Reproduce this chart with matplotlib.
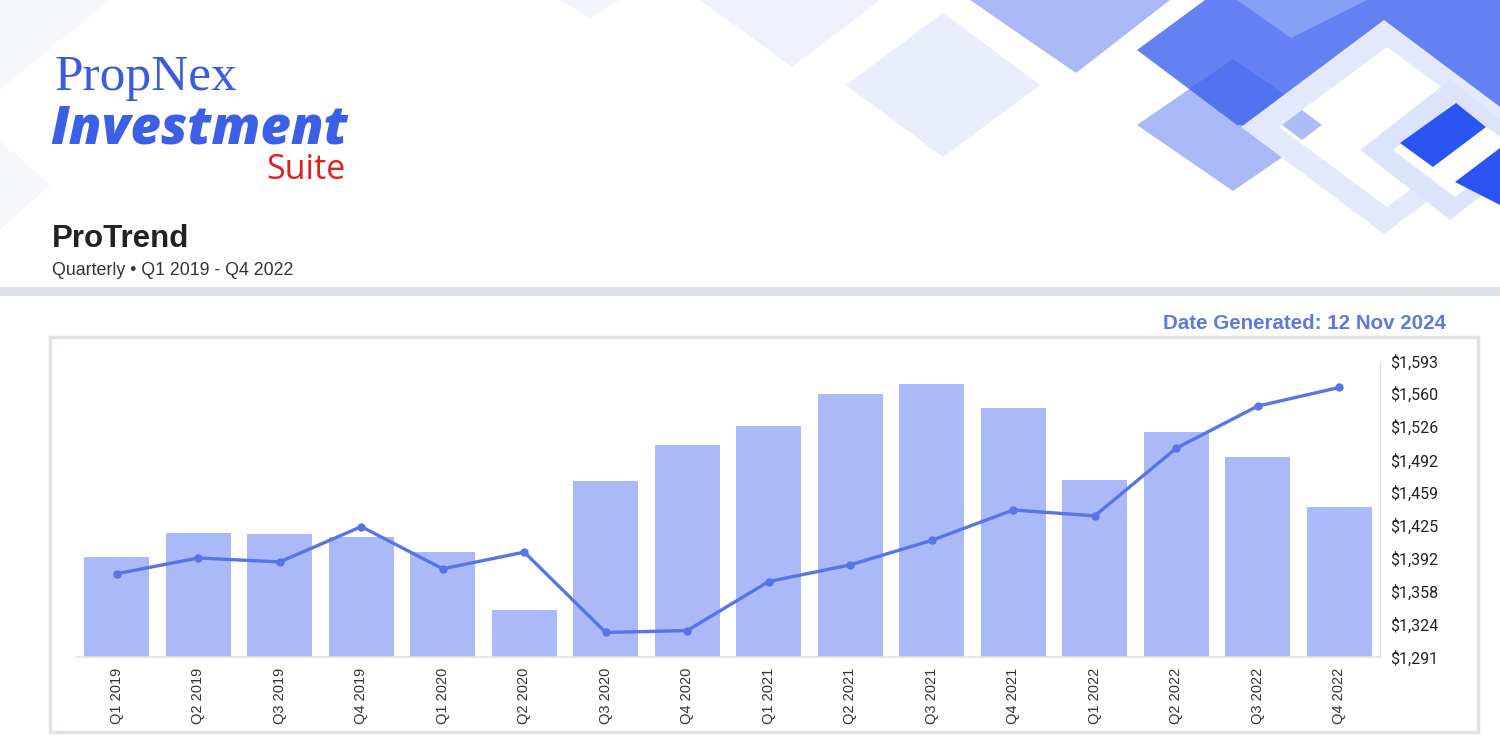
import numpy as np
import matplotlib.pyplot as plt
from matplotlib.patches import Polygon, Rectangle

# Datos
quarters = ['Q1 2019', 'Q2 2019', 'Q3 2019', 'Q4 2019',
            'Q1 2020', 'Q2 2020', 'Q3 2020', 'Q4 2020',
            'Q1 2021', 'Q2 2021', 'Q3 2021', 'Q4 2021',
            'Q1 2022', 'Q2 2022', 'Q3 2022', 'Q4 2022']
# volumen (escala oculta)
volume = [100, 124, 123, 120, 105, 47, 176, 212,
          231, 263, 273, 249, 177, 225, 200, 150]
# precio ($ psf)
price = [1376, 1392, 1388, 1424, 1381, 1398, 1316, 1318,
         1368, 1385, 1410, 1441, 1435, 1504, 1547, 1566]
price_ticks = [1291, 1324, 1358, 1392, 1425, 1459, 1492, 1526, 1560, 1593]

W, H = 1500, 752
fig = plt.figure(figsize=(W / 100, H / 100), dpi=100)
fig.patch.set_facecolor('white')

# Fondo decorativo en coordenadas de pixel
bg = fig.add_axes([0, 0, 1, 1], zorder=-5)
bg.set_xlim(0, W)
bg.set_ylim(H, 0)
bg.axis('off')


def poly(pts, color, alpha=1.0):
    bg.add_patch(Polygon(pts, closed=True, facecolor=color, edgecolor='none', alpha=alpha))


def diamond(cx, cy, hw, hh, color, alpha=1.0):
    poly([(cx - hw, cy), (cx, cy - hh), (cx + hw, cy), (cx, cy + hh)], color, alpha)


poly([(0, 0), (110, 0), (0, 90)], '#f6f7fa')
poly([(0, 140), (50, 185), (0, 230)], '#f6f7fa')
poly([(560, 0), (590, 18), (620, 0)], '#f2f4fc')
poly([(700, 0), (792, 67), (880, 0)], '#eef1fc')
diamond(943, 85, 97, 72, '#e8ecfb')
poly([(970, 0), (1076, 73), (1170, 0)], '#aab8f6')
diamond(1233, 125, 96, 66, '#a9b8f6')
poly([(1137, 50), (1205, 0), (1500, 0), (1500, 140), (1237, 125)], '#3c62f0', 0.8)
poly([(1237, 0), (1367, 0), (1291, 38)], '#8fa9f8', 0.8)
diamond(1384, 127, 143, 107, '#e3e8fb')
diamond(1387, 127, 108, 80, 'white')
diamond(1302, 125, 20, 15, '#aebcf6')
diamond(1450, 150, 90, 70, '#dde3fb')
diamond(1455, 150, 62, 47, 'white')
poly([(1400, 143), (1456, 103), (1486, 127), (1433, 167)], '#2a55f3')
poly([(1455, 182), (1500, 148), (1500, 205)], '#2a55f3')

# Banda separadora
bg.add_patch(Rectangle((0, 287), W, 9, facecolor='#dde1e5', edgecolor='none'))
# Marco del panel
bg.add_patch(Rectangle((50, 337), 1428, 395, facecolor='white', edgecolor='#dfe3e8', linewidth=2.5))

# Logo y titulos
fig.text(55 / W, 1 - 90 / H, 'PropNex', fontsize=37, color='#3a5ae0',
         family='Liberation Serif', va='baseline')
fig.text(50 / W, 1 - 143 / H, 'Investment', fontsize=38, color='#3b5fe6',
         family='Open Sans', weight='heavy', style='italic', va='baseline')
fig.text(346 / W, 1 - 179 / H, 'Suite', fontsize=24.5, color='#e02020',
         family='Open Sans', ha='right', va='baseline')
fig.text(52 / W, 1 - 247 / H, 'ProTrend', fontsize=22.5, color='#222222',
         family='Liberation Sans', weight='bold', va='baseline')
fig.text(52 / W, 1 - 275 / H, 'Quarterly \u2022 Q1 2019 - Q4 2022', fontsize=12.8,
         color='#333333', family='Liberation Sans', va='baseline')
fig.text(1446 / W, 1 - 329 / H, 'Date Generated: 12 Nov 2024', fontsize=14.8,
         color='#5f79e0', family='Liberation Sans', weight='bold', ha='right', va='baseline')

# Grafico
ax = fig.add_axes([76 / W, 1 - 657 / H, (1380 - 76) / W, (657 - 361) / H])
x = np.arange(len(quarters))
ax.bar(x, volume, width=0.8, color='#aab9f7', zorder=2)
ax.set_xlim(-0.5, len(quarters) - 0.5)
ax.set_ylim(0, 296)
ax.set_yticks([])
ax.set_xticks(x)
ax.set_xticklabels(quarters, rotation=90, fontsize=10.5, color='#333333', family='Liberation Sans')
ax.tick_params(axis='x', length=0, pad=8)
for s in ['top', 'left', 'right']:
    ax.spines[s].set_visible(False)
ax.spines['bottom'].set_color('#dde1e6')
ax.spines['bottom'].set_linewidth(1.2)
ax.patch.set_alpha(0)

ax2 = ax.twinx()
ax2.plot(x, price, color='#5874e6', linewidth=2.4, marker='o', markersize=5, zorder=3)
ax2.set_ylim(1291, 1593)
ax2.set_yticks(price_ticks)
ax2.set_yticklabels(['$' + format(v, ',') for v in price_ticks], fontsize=11.5,
                    color='#222222', family='Roboto')
ax2.tick_params(axis='y', length=0, pad=7)
for s in ['top', 'left', 'bottom']:
    ax2.spines[s].set_visible(False)
ax2.spines['right'].set_color('#dde1e6')
ax2.spines['right'].set_linewidth(1)

plt.savefig('out.png', dpi=100)
